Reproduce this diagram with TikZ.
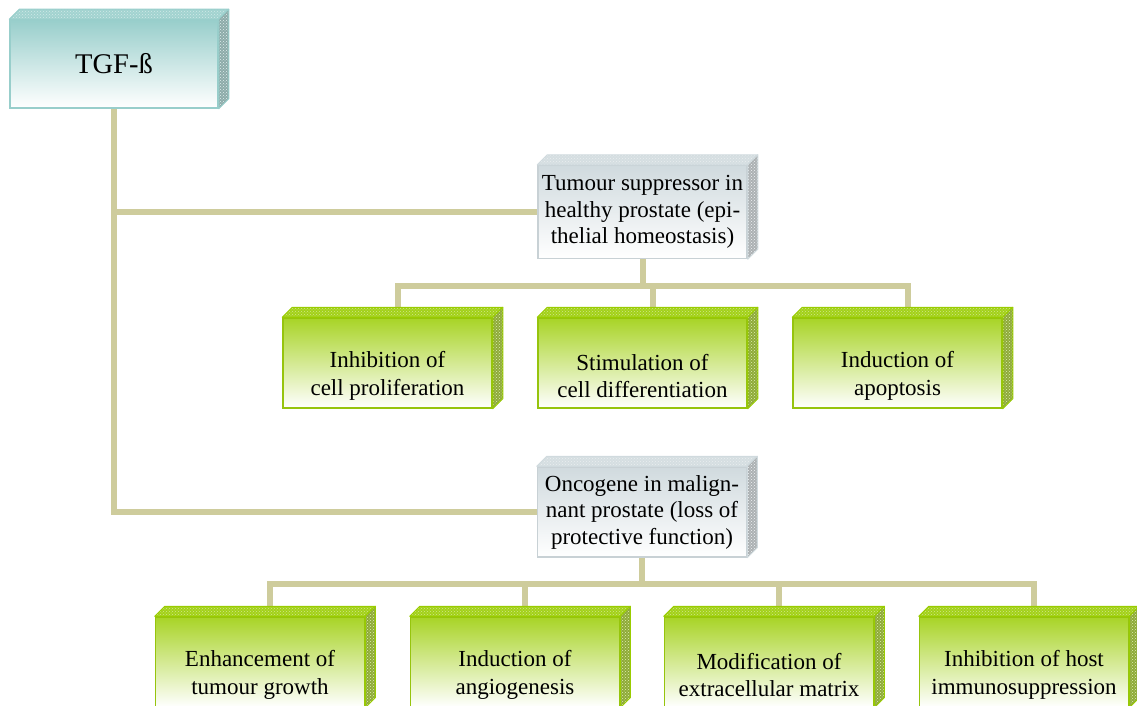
\documentclass[tikz,border=0pt]{standalone}
\usepackage{fontspec}
\setmainfont{Liberation Serif}
\usetikzlibrary{calc,patterns,backgrounds}

\definecolor{tgfteal}{RGB}{152,206,203}
\definecolor{supgrey}{RGB}{208,218,222}
\definecolor{leafgreen}{RGB}{153,204,0}
\definecolor{stemkhaki}{RGB}{206,204,156}

\tikzset{
  box/.style={rectangle, minimum width=209, minimum height=90, inner sep=0pt,
    line width=1.5pt, align=center, font=\fontsize{23}{26.5}\selectfont},
  rootbox/.style={box, minimum width=208, minimum height=88, draw=tgfteal,
    top color=tgfteal, middle color=tgfteal!45, bottom color=white,
    font=\fontsize{28.5}{32}\selectfont},
  midbox/.style={box, draw=supgrey!90!gray, top color=supgrey, bottom color=white},
  leafbox/.style={box, draw=leafgreen!90!gray, top color=leafgreen!85!white,
    middle color=leafgreen!40, bottom color=white,
    label={[align=center, font=\fontsize{23}{27.5}\selectfont, yshift=-13pt]center:#1}},
  stem/.style={draw=stemkhaki, line width=6pt},
  face/.style={line width=1pt, line join=round}
}

\begin{document}
\begin{tikzpicture}[x=1pt, y=-1pt]
  \def\dep{10}
  \useasboundingbox (0,0) rectangle (1137,706);

  % root and the two roles
  \node[rootbox] (tgf) at (114,64) {TGF-ß};
  \node[midbox, minimum height=93] (sup) at (642.5,212)
    {Tumour suppressor in\\healthy prostate (epi-\\thelial homeostasis)};
  \node[midbox] (onc) at (642,512)
    {Oncogene in malign-\\nant prostate (loss of\\protective function)};

  % effects in the healthy prostate
  \node[leafbox={Inhibition of\\cell proliferation}] (a1) at (387.5,363) {};
  \node[leafbox={Stimulation of\\cell differentiation}] (a2) at (642.5,363) {};
  \node[leafbox={Induction of\\apoptosis}] (a3) at (897.5,363) {};

  % effects in the malignant prostate
  \node[leafbox={Enhancement of\\tumour growth}] (b1) at (260,662) {};
  \node[leafbox={Induction of\\angiogenesis}] (b2) at (515,662) {};
  \node[leafbox={Modification of\\extracellular matrix}] (b3) at (769,662) {};
  \node[leafbox={Inhibition of host\\immunosuppression}] (b4) at (1024,662) {};

  % top and side faces of the boxes
  \foreach \n/\col in {tgf/tgfteal, sup/supgrey, onc/supgrey, a1/leafgreen, a2/leafgreen,
      a3/leafgreen, b1/leafgreen, b2/leafgreen, b3/leafgreen, b4/leafgreen}{
    \coordinate (\n-top) at ($(\n.north)+(\dep,-\dep)$);
    \draw[face, draw=\col, preaction={fill=\col!90!white}, pattern=crosshatch dots,
        pattern color=\col!45]
      (\n.north west) -- ++(\dep,-\dep) -- ($(\n.north east)+(\dep,-\dep)$)
      -- (\n.north east) -- cycle;
    \draw[face, draw=\col, preaction={fill=\col!55!gray}, pattern=crosshatch dots,
        pattern color=\col!30]
      (\n.north east) -- ++(\dep,-\dep) -- ($(\n.south east)+(\dep,-\dep)$)
      -- (\n.south east) -- cycle;
  }

  % connectors
  \begin{scope}[on background layer]
    \draw[stem] (tgf.south) |- (sup.west);
    \draw[stem] (tgf.south) |- (onc.west);
    \foreach \k in {a1,a2,a3}
      \draw[stem] (sup.south) -- ++(0,27) -| (\k-top);
    \foreach \k in {b1,b2,b3,b4}
      \draw[stem] (onc.south) -- ++(0,26) -| (\k-top);
  \end{scope}
\end{tikzpicture}
\end{document}
